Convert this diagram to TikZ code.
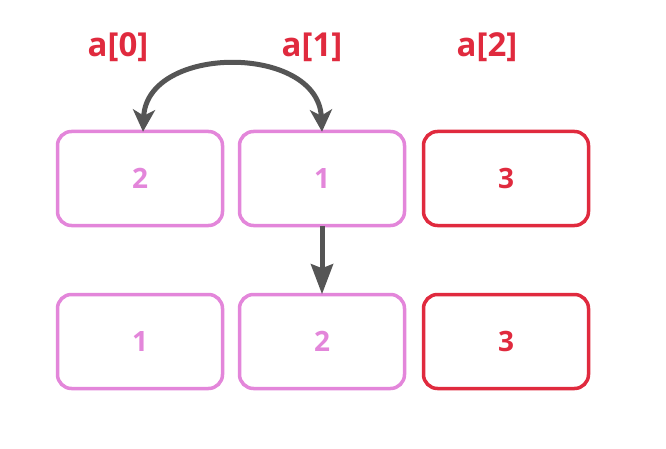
\documentclass[tikz,border=0pt]{standalone}
\usepackage{fontspec}
\setmainfont{Open Sans}
\usetikzlibrary{arrows.meta}
\definecolor{myred}{HTML}{E02A3E}
\definecolor{mypink}{HTML}{E386DA}
\definecolor{mygray}{HTML}{555555}
\begin{document}
\begin{tikzpicture}[x=1pt,y=-1pt,
  cell/.style={draw, rounded corners=14pt, line width=3.5pt, minimum width=165pt, minimum height=94pt, inner sep=0pt, font=\fontsize{28}{30}\selectfont\bfseries},
  pinkcell/.style={cell, draw=mypink, text=mypink},
  redcell/.style={cell, draw=myred, text=myred},
  lbl/.style={text=myred, font=\fontsize{33}{36}\selectfont\bfseries, inner sep=0pt},
  tip/.style={Stealth[length=22pt,width=22pt,inset=6pt]}
]
\useasboundingbox (0,0) rectangle (666,449);
\node[pinkcell] (b1) at (140,178.5) {2};
\node[pinkcell] (b2) at (322,178.5) {1};
\node[redcell]  (b3) at (506,178.5) {3};
\node[pinkcell] (c1) at (140,341.5) {1};
\node[pinkcell] (c2) at (322,341.5) {2};
\node[redcell]  (c3) at (506,341.5) {3};
\node[lbl] (l0) at (118,47) {a[0]};
\node[lbl] (l1) at (312,47) {a[1]};
\node[lbl] (l2) at (487,47) {a[2]};
\draw[draw=mygray, line width=5pt, {Stealth[length=22pt,width=22pt,inset=6pt]}-{Stealth[length=22pt,width=22pt,inset=6pt]}]
  ([xshift=3pt,yshift=-2pt]b1.north) .. controls (147,44) and (318,44) .. ([yshift=-2pt]b2.north);
\draw[draw=mygray, line width=5pt, -{Stealth[length=30pt,width=22pt,inset=4pt]}] ([yshift=1.5pt]b2.south) -- ([yshift=-1.5pt]c2.north);
\end{tikzpicture}
\end{document}
